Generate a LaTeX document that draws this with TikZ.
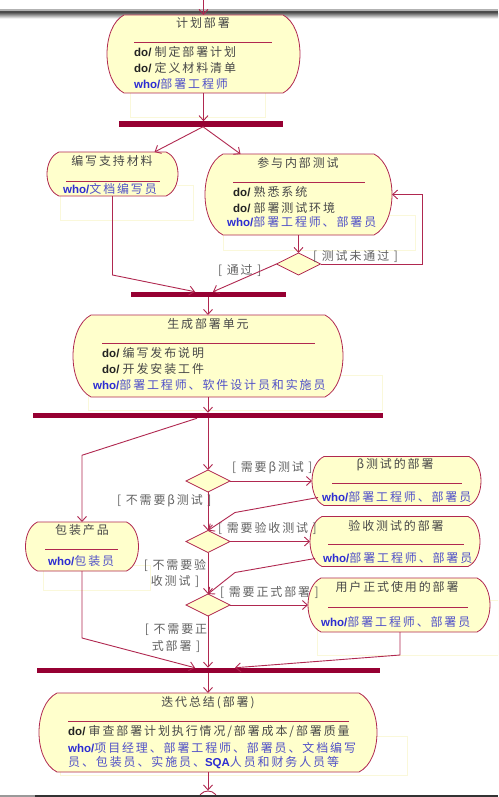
\documentclass[tikz,border=0pt]{standalone}
\usepackage{fontspec}
\setmainfont{Liberation Sans}
\newfontfamily\cjk[LetterSpace=16,Scale=1.04]{Noto Sans CJK SC}
\usetikzlibrary{arrows.meta,calc,shapes.geometric}
\definecolor{edge}{RGB}{176,40,80}
\definecolor{barc}{RGB}{150,0,50}
\definecolor{fillY}{RGB}{255,255,204}
\definecolor{txt}{RGB}{72,72,72}
\definecolor{dark}{RGB}{35,35,35}
\definecolor{whoc}{RGB}{45,45,210}
\definecolor{whotxt}{RGB}{80,80,200}
\definecolor{faint}{RGB}{250,248,218}
\newcommand\fsz{\fontsize{11.5}{14}\selectfont}
\newcommand\dotext[1]{{\bfseries\color{dark}do/}\ {\cjk\color{txt}#1}}
\newcommand\whotext[1]{{\bfseries\color{whoc}who/}{\cjk\color{whotxt}#1}}
\newcommand\actout[2]{%
  \path[actline] ([xshift=#2pt]#1.north west) -- ([xshift=-#2pt]#1.north east)
    .. controls ($(#1.north east)!0.15!(#1.south east)+(#2/3,0)$) and ($(#1.north east)!0.85!(#1.south east)+(#2/3,0)$) .. ([xshift=-#2pt]#1.south east)
    -- ([xshift=#2pt]#1.south west)
    .. controls ($(#1.south west)!0.15!(#1.north west)+(-#2/3,0)$) and ($(#1.south west)!0.85!(#1.north west)+(-#2/3,0)$) .. cycle;}
\tikzset{
  box/.style={inner sep=0pt,outer sep=0pt,draw=none},
  actline/.style={draw=edge,line width=0.8pt,fill=fillY},
  barnode/.style={fill=barc,inner sep=0pt,outer sep=0pt,minimum height=5.5pt},
  dia/.style={diamond,draw=edge,line width=0.8pt,fill=fillY,inner sep=0pt,outer sep=0pt,minimum width=44pt,minimum height=22pt},
  conn/.style={draw=edge,line width=0.9pt,-{Straight Barb[length=5pt,width=9pt]}},
  sepline/.style={draw=edge,line width=0.8pt},
  faintline/.style={draw=faint,line width=0.6pt},
  ttl/.style={inner sep=0pt,font=\fsz\cjk,text=txt},
  tx/.style={inner sep=0pt,anchor=west,font=\fsz},
  lbl/.style={inner sep=0pt,font=\fsz\cjk,text=txt!85},
  lbl2/.style={inner sep=0pt,font=\fontsize{11.5}{16.5}\selectfont\cjk,text=txt!85,align=center}
}
\begin{document}
\begin{tikzpicture}[x=1pt,y=-1pt]
\useasboundingbox (0,0) rectangle (498,797);
\clip (0,0) rectangle (498,797);
\fill[white] (0,0) rectangle (498,797);
% page band at top
\fill[black!30] (0,9.5) rectangle (498,11.5);
\fill[black!70] (0,11.5) rectangle (498,13.5);
\shade[top color=black!55,bottom color=white] (0,13.5) rectangle (498,18.5);
% faint boxes
\draw[faintline] (130,80) rectangle (265,117);
\draw[faintline] (60,185) rectangle (193,220);
\draw[faintline] (223,215) rectangle (415,250);
\draw[faintline] (88,375) rectangle (382,410);
\draw[faintline] (43,565) rectangle (150,590);
\draw[faintline] (317,600) rectangle (498,655);
\draw[faintline] (60,736) rectangle (407,775);
% activity boxes
\node[box,minimum width=193pt,minimum height=78pt] (plan) at (203.5,54) {};
\actout{plan}{17}
\node[box,minimum width=131pt,minimum height=44pt] (write) at (112.5,174) {};
\actout{write}{12}
\node[box,minimum width=187pt,minimum height=81pt] (test) at (298.5,194.5) {};
\actout{test}{18}
\node[box,minimum width=270pt,minimum height=82pt] (gen) at (208,356) {};
\actout{gen}{18}
\node[box,minimum width=113pt,minimum height=49pt] (pack) at (82,546.5) {};
\actout{pack}{12}
\node[box,minimum width=169pt,minimum height=49pt] (beta) at (396.5,481) {};
\actout{beta}{12}
\node[box,minimum width=170pt,minimum height=50pt] (accept) at (395,541.5) {};
\actout{accept}{12}
\node[box,minimum width=182pt,minimum height=54pt] (user) at (399,605) {};
\actout{user}{13}
\node[box,minimum width=338pt,minimum height=79pt] (summ) at (208,732.5) {};
\actout{summ}{18}
% bars
\node[barnode,minimum width=164pt] (bar1) at (201,124) {};
\node[barnode,minimum width=155pt] (bar2) at (208,294.5) {};
\node[barnode,minimum width=350pt] (bar3) at (208,415.5) {};
\node[barnode,minimum width=343pt] (bar4) at (208,670.5) {};
% decisions
\node[dia] (d1) at (298.5,264) {};
\node[dia] (d2) at (208,481) {};
\node[dia] (d3) at (208,541.5) {};
\node[dia] (d4) at (208,605) {};
% final node
\node[circle,draw=edge,line width=0.9pt,fill=white,minimum size=20pt,inner sep=0pt] (final) at (208,801) {};
\node[circle,fill=edge,minimum size=11pt,inner sep=0pt] (finaldot) at (final) {};
\coordinate (top) at (203.5,-3);
% texts: plan
\node[ttl] (plan-t) at (203,23) {计划部署};
\draw[sepline] (134,42) -- (272,42);
\node[tx] (plan-1) at (134,52) {\dotext{制定部署计划}};
\node[tx] (plan-2) at (134,68) {\dotext{定义材料清单}};
\node[tx] (plan-3) at (134,84) {\whotext{部署工程师}};
% write
\node[ttl] (write-t) at (112,161) {编写支持材料};
\draw[sepline] (66,181) -- (160,181);
\node[tx] (write-1) at (63,189) {\whotext{文档编写员}};
% test
\node[ttl] (test-t) at (298,163) {参与内部测试};
\draw[sepline] (233,182) -- (365,182);
\node[tx] (test-1) at (233,192) {\dotext{熟悉系统}};
\node[tx] (test-2) at (233,207.5) {\dotext{部署测试环境}};
\node[tx] (test-3) at (227,221.5) {\whotext{部署工程师、部署员}};
% gen
\node[ttl] (gen-t) at (208,324) {生成部署单元};
\draw[sepline] (102,343) -- (315,343);
\node[tx] (gen-1) at (102,353) {\dotext{编写发布说明}};
\node[tx] (gen-2) at (102,368.5) {\dotext{开发安装工件}};
\node[tx] (gen-3) at (93,385) {\whotext{部署工程师、软件设计员和实施员}};
% pack
\node[ttl] (pack-t) at (82,530) {包装产品};
\draw[sepline] (45,549) -- (118,549);
\node[tx] (pack-1) at (48,561) {\whotext{包装员}};
% beta
\node[ttl] (beta-t) at (395,465) {β测试的部署};
\draw[sepline] (332,483) -- (462,483);
\node[tx] (beta-1) at (322,496.5) {\whotext{部署工程师、部署员}};
% accept
\node[ttl] (accept-t) at (396,526) {验收测试的部署};
\draw[sepline] (328,544) -- (464,544);
\node[tx] (accept-1) at (323,558) {\whotext{部署工程师、部署员}};
% user
\node[ttl] (user-t) at (397,587) {用户正式使用的部署};
\draw[sepline] (328,607) -- (468,607);
\node[tx] (user-1) at (321,622) {\whotext{部署工程师、部署员}};
% summ
\node[ttl] (summ-t) at (208,703) {迭代总结(部署)};
\draw[sepline] (68,721) -- (349,721);
\node[tx] (summ-1) at (68,731) {\dotext{审查部署计划执行情况/部署成本/部署质量}};
\node[tx] (summ-2) at (68,748) {\whotext{项目经理、部署工程师、部署员、文档编写}};
\node[tx] (summ-3) at (68,763) {{\cjk\color{whotxt}员、包装员、实施员、}{\bfseries\color{whoc}SQA}{\cjk\color{whotxt}人员和财务人员等}};
% guard labels
\node[lbl,anchor=west] (l1) at (313,256) {[ 测试未通过 ]};
\node[lbl,anchor=west] (l2) at (218,271) {[ 通过 ]};
\node[lbl,anchor=west] (l3) at (232,468) {[ 需要β测试 ]};
\node[lbl,anchor=west] (l4) at (117,501) {[ 不需要β测试 ]};
\node[lbl,anchor=west] (l5) at (218,528) {[ 需要验收测试 ]};
\node[lbl2] (l6) at (175,573.5) {[ 不需要验\\收测试 ]};
\node[lbl,anchor=west] (l7) at (220,592) {[ 需要正式部署 ]};
\node[lbl2] (l8) at (176,638) {[ 不需要正\\式部署 ]};
% connectors
\draw[conn] (top) -- (plan.north);
\draw[conn] (plan.south) -- (plan.south |- bar1.north);
\draw[conn] ([xshift=2pt]bar1.south) -- ([xshift=42pt]write.north);
\draw[conn] ([xshift=2pt]bar1.south) -- ([xshift=-58pt]test.north);
\draw[conn] (test.south) -- (d1.north);
\draw[conn] (d1.east) -- ++(102,0) |- (test.east);
\draw[conn] (d1.west) -- ([xshift=5pt]bar2.north);
\draw[conn] (write.south) -- ++(0,79) -- ([xshift=-13pt]bar2.north);
\draw[conn] (bar2.south) -- (gen.north);
\draw[conn] (gen.south) -- (bar3.north);
\draw[conn] ([xshift=-11pt]bar3.south) -- ++(-115,37) -- (pack.north);
\draw[conn] (bar3.south) -- (d2.north);
\draw[conn] (d2.east) -- (beta.west);
\draw[conn] (d2.south) -- (d3.north);
\draw[conn] ([shift={(6,-8)}]beta.south west) -- ++(-83,15) -- (d3.north);
\draw[conn] (d3.east) -- (accept.west);
\draw[conn] (d3.south) -- (d4.north);
\draw[conn] ([shift={(5,-8)}]accept.south west) -- ++(-80,14) -- (d4.north);
\draw[conn] (d4.east) -- (user.west);
\draw[conn] (d4.south) -- (d4.south |- bar4.north);
\draw[conn] ([xshift=1pt]user.south) -- ++(0,23) -- ([xshift=27pt]bar4.north);
\draw[conn] (pack.south) -- ++(0,67) -- ([xshift=-13pt]bar4.north);
\draw[conn] (bar4.south) -- (summ.north);
\draw[conn] (summ.south) -- (final.north);
% bottom band
\fill[black!80] (0,795) rectangle (498,797);
\fill[black!40] (0,795) rectangle (35,797);
\end{tikzpicture}
\end{document}
